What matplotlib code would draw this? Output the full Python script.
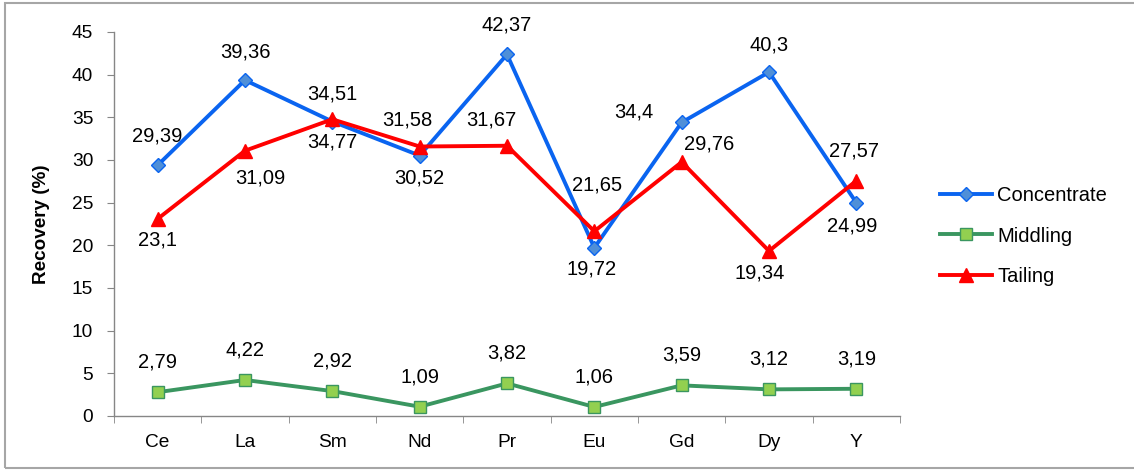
import matplotlib
matplotlib.use("Agg")
import matplotlib.pyplot as plt
from matplotlib.patches import Rectangle
from matplotlib.ticker import FixedLocator, NullFormatter

plt.rcParams['font.family'] = ['Liberation Sans', 'DejaVu Sans']

elements = ["Ce", "La", "Sm", "Nd", "Pr", "Eu", "Gd", "Dy", "Y"]
concentrate = [29.39, 39.36, 34.51, 30.52, 42.37, 19.72, 34.4, 40.3, 24.99]
middling = [2.79, 4.22, 2.92, 1.09, 3.82, 1.06, 3.59, 3.12, 3.19]
tailing = [23.1, 31.09, 34.77, 31.58, 31.67, 21.65, 29.76, 19.34, 27.57]

# label offsets in pixels (dx, dy) for each point
conc_off = [(0, 29), (0, 28), (0, 28), (0, -22), (0, 29), (-3, -21), (-48, 10), (0, 27), (-4, -23)]
midd_off = [(0, 30)] * 9
tail_off = [(0, -21), (15, -27), (0, -23), (-12, 27), (-16, 26), (3, 46), (27, 18), (-9, -22), (-2, 30)]

W, H = 1134, 470
fig = plt.figure(figsize=(W / 100, H / 100), dpi=100)
ax = fig.add_axes([114 / W, 1 - 416 / H, (900 - 114) / W, (416 - 32) / H])

x = list(range(len(elements)))
blue, green, red = "#0A64F0", "#3A9660", "#FF0000"
ax.plot(x, concentrate, color=blue, lw=2.8, marker="D", ms=7.5,
        mfc="#4F8FD8", mec=blue, mew=1.0, label="Concentrate", zorder=3)
ax.plot(x, middling, color=green, lw=2.8, marker="s", ms=8,
        mfc="#92D050", mec=green, mew=1.0, label="Middling", zorder=3)
ax.plot(x, tailing, color=red, lw=2.8, marker="^", ms=10,
        mfc=red, mec=red, label="Tailing", zorder=4)

def fmt(v):
    return f"{v:g}".replace(".", ",")

for vals, offs in ((concentrate, conc_off), (middling, midd_off), (tailing, tail_off)):
    for xi, v, (dx, dy) in zip(x, vals, offs):
        ax.annotate(fmt(v), (xi, v), xytext=(dx, dy), textcoords="offset pixels",
                    ha="center", va="center", fontsize=14.5, color="black")

ax.set_xlim(-0.5, len(elements) - 0.5)
ax.set_ylim(0, 45)
ax.set_yticks(range(0, 46, 5))
ax.set_xticks(x)
ax.set_xticklabels(elements)
ax.xaxis.set_minor_locator(FixedLocator([i - 0.5 for i in range(len(elements) + 1)]))
ax.xaxis.set_minor_formatter(NullFormatter())

spine_col = "#868686"
for s in ("top", "right"):
    ax.spines[s].set_visible(False)
for s in ("left", "bottom"):
    ax.spines[s].set_color(spine_col)
    ax.spines[s].set_linewidth(1.0)
ax.tick_params(axis="y", length=5, color=spine_col, labelsize=13.8, pad=10)
ax.tick_params(axis="x", which="major", length=0, labelsize=13.8, pad=13)
ax.tick_params(axis="x", which="minor", length=5, color=spine_col)

ax.set_ylabel("Recovery (%)", fontsize=13.6, fontweight="bold", labelpad=16)

fig.legend(loc="center left", bbox_to_anchor=(940 / W, 1 - 236 / H), frameon=False,
           fontsize=14.5, handlelength=2.6, labelspacing=1.08, handletextpad=0.25,
           borderpad=0, borderaxespad=0)

fig.patches.append(Rectangle((5 / W, 2 / H), 1.2, 1 - 5 / H, transform=fig.transFigure,
                             fill=False, edgecolor="#A6A6A6", lw=1.5))

fig.savefig("out.png", dpi=100)
